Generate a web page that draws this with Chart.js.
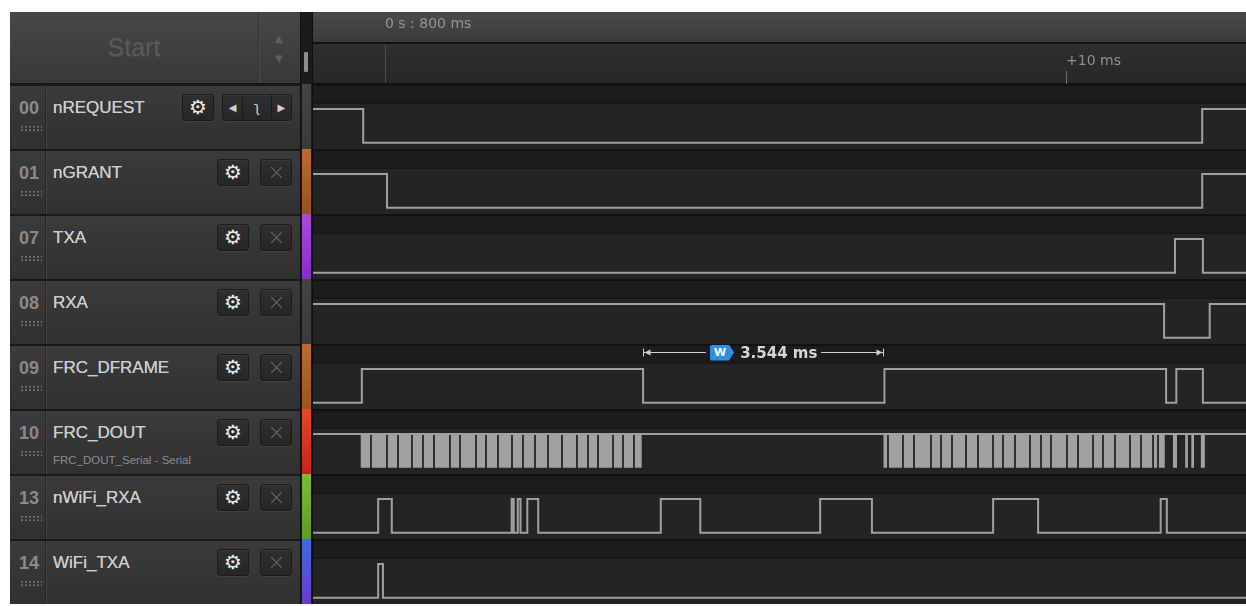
<!DOCTYPE html>
<html>
<head>
<meta charset="utf-8">
<title>Logic capture</title>
<script src="https://cdn.jsdelivr.net/npm/chart.js@4.4.1/dist/chart.umd.min.js"></script>
<style>
  html, body { margin: 0; padding: 0; background: #fff; }
  body { width: 1246px; height: 606px; position: relative; overflow: hidden; }
  #frame { position: absolute; left: 10px; top: 12px; width: 1236px; height: 592px; background: #232323;
           font-family: "Liberation Sans", Arial, sans-serif; }
  #head { position: absolute; left: 0; top: 0; width: 290px; height: 72px; box-sizing: border-box;
          background: linear-gradient(#474747, #393939); border-bottom: 1px solid #161616; }
  #start { position: absolute; left: 0; top: 0; width: 248px; height: 71px; line-height: 70px; text-align: center;
           font-size: 25px; color: #5a5a5a; text-shadow: 0 1px 0 rgba(255,255,255,0.07); }
  #scroll { position: absolute; left: 248px; top: 0; width: 42px; height: 71px; box-sizing: border-box;
            border-left: 1px solid #333; box-shadow: inset 1px 0 0 #4d4d4d; }
  #scroll span { position: absolute; left: 16px; font: 10px "DejaVu Sans", sans-serif; color: #5e5e5e; }
  #strip { position: absolute; left: 290px; top: 0; width: 13px; height: 592px; box-sizing: border-box;
           background: #1b1b1b; border-left: 1px solid #0e0e0e; border-right: 1px solid #0e0e0e; }
  #thumb { position: absolute; left: 3px; top: 40px; width: 4px; height: 20px; background: #8d8d8d; border-radius: 1px; }
  .bar { position: absolute; left: 1px; width: 9px; height: 65px; }
  .row { position: absolute; left: 0; width: 290px; height: 65px; box-sizing: border-box;
         border-top: 2px solid #191919; background: linear-gradient(#3b3b3b, #303030); }
  .num { position: absolute; left: 0; top: 0; width: 35px; height: 63px; border-right: 1px solid #242424;
         box-shadow: 1px 0 0 #444; }
  .num span { position: absolute; left: 9px; top: 12px; font-weight: bold; font-size: 18px; color: #8a8a8a; }
  .grip { position: absolute; left: 10px; top: 39px; width: 22px; height: 7px;
          background-image: radial-gradient(circle, #707070 0.9px, transparent 1.2px); background-size: 4px 3.5px; }
  .name { position: absolute; left: 43px; top: 12px; font-size: 17px; color: #cdcdcd; white-space: nowrap;
          text-shadow: 0 0 0.4px #cdcdcd; }
  .note { position: absolute; left: 43px; top: 43px; font-size: 11.5px; color: #8c8c8c; white-space: nowrap; }
  .btn { position: absolute; top: 8px; height: 27px; box-sizing: border-box; border-radius: 3px;
         background: linear-gradient(#2f2f2f, #262626); border: 1px solid #1b1b1b;
         box-shadow: inset 0 1px 0 rgba(255,255,255,0.05), 0 1px 0 rgba(255,255,255,0.06);
         text-align: center; line-height: 25px; font-family: "DejaVu Sans", sans-serif; }
  .gear { width: 32px; color: #ececec; font-size: 20px; }
  .close { left: 250px; width: 32px; }
  .close::before, .close::after { content: ""; position: absolute; left: 8px; top: 12px; width: 15px; height: 1px;
         background: #6c6c6c; transform: rotate(45deg); }
  .close::after { transform: rotate(-45deg); }
  .nav { left: 212px; width: 70px; color: #d0d0d0; font-size: 10px; display: flex; }
  .nav i { font-style: normal; flex: 1; border-left: 1px solid #1b1b1b; }
  .nav i:first-child { border-left: none; }
  .nav i.mid { flex: 1.4; font-size: 14px; }
  #wave { position: absolute; left: 303px; top: 0; }
  #measure { position: absolute; display: flex; align-items: center; gap: 6px; white-space: nowrap;
             font: bold 15px "DejaVu Sans", sans-serif; color: #d6d6d6; }
  #measure .badge { background: #2f8fe4; color: #fff; font: bold 11px "DejaVu Sans", sans-serif; height: 16px;
             line-height: 16px; padding: 0 8px 0 4px; border-radius: 2px;
             clip-path: polygon(0 0, 78% 0, 100% 50%, 78% 100%, 0 100%); }
</style>
</head>
<body>
<div id="frame">
  <div id="head">
    <div id="start">Start</div>
    <div id="scroll"><span style="top:21px">▲</span><span style="top:41px">▼</span></div>
  </div>
  <div id="strip"><div id="thumb"></div></div>
  <div id="rows"></div>
  <canvas id="wave" width="933" height="592"></canvas>
  <div id="measure"><span class="badge">W</span><span id="measureText"></span></div>
</div>

<script>
// ---- Channels ----
const channelIds = ['00', '01', '07', '08', '09', '10', '13', '14'];
const channelNames = ['nREQUEST', 'nGRANT', 'TXA', 'RXA', 'FRC_DFRAME', 'FRC_DOUT', 'nWiFi_RXA', 'WiFi_TXA'];
const channelNotes = ['', '', '', '', '', 'FRC_DOUT_Serial - Serial', '', ''];
const startLevels = [1, 1, 0, 1, 0, 1, 0, 0];

// ---- Edge times, ms after the "0 s : 800 ms" marker (each edge flips the level) ----
const nRequestEdges = [-0.32, 12.0];
const nGrantEdges = [0.03, 12.0];
const txaEdges = [11.6, 12.01];
const rxaEdges = [11.44, 12.11];
const frcDframeEdges = [-0.34, 3.79, 7.334, 11.47, 11.62, 12.01];
const frcDoutEdges = [];
const wifiRxaEdges = [-0.1, 0.1, 1.86, 1.89, 1.95, 1.99, 2.09, 2.25, 4.05, 4.63, 6.39, 7.15, 8.93, 9.59, 11.39, 11.48];
const wifiTxaEdges = [-0.1, -0.03];

// ---- FRC_DOUT serial traffic: bursts, idle gaps between bytes, trailing bits ----
const doutBursts = [[-0.36, 3.77], [7.32, 11.45]];
const doutByteGaps = [
  -0.206, 0.029, 0.191, 0.396, 0.558, 0.72, 0.954, 1.101, 1.336, 1.483, 1.659, 1.865, 2.026,
  2.203, 2.394, 2.599, 2.819, 2.981, 3.128, 3.348, 3.495, 3.656,
  7.386, 7.606, 7.768, 8.018, 8.164, 8.326, 8.532, 8.708, 8.928, 9.075, 9.251, 9.471, 9.633,
  9.78, 10.015, 10.176, 10.396, 10.543, 10.72, 10.94, 11.101, 11.278, 11.351
];
const doutTailBits = [[11.57, 11.63], [11.75, 11.79], [11.84, 11.88], [11.98, 12.04]];

// ---- Time ruler ----
const viewStartMs = -1.057;
const viewEndMs = 12.643;
const rulerOriginMs = [0];
const rulerTickMs = [10];

// style only
const stripColors = [
  ['#444', '#3a3a3a'], ['#bb6c32', '#96501f'], ['#a84ada', '#8a2ccc'], ['#444', '#3a3a3a'],
  ['#bb6c32', '#985420'], ['#e34a2a', '#c4221c'], ['#7dbb36', '#5d9c22'], ['#3d6ce0', '#6b38d0']
];
const HI = 0.385, LO = 0.905, GAP_MS = 0.026;
const lane = (row, level) => row + (level ? HI : LO);

// ---- Left panel ----
function buildPanel() {
  const rows = document.getElementById('rows');
  const strip = document.getElementById('strip');
  channelIds.forEach((id, i) => {
    const top = 72 + i * 65;
    const row = document.createElement('div');
    row.className = 'row';
    row.style.top = top + 'px';
    let buttons;
    if (i === 0) {
      buttons = '<div class="btn gear" style="left:172px">⚙</div>' +
        '<div class="btn nav"><i>◀</i><i class="mid">ʅ</i><i>▶</i></div>';
    } else {
      buttons = '<div class="btn gear" style="left:207px">⚙</div><div class="btn close"></div>';
    }
    row.innerHTML =
      '<div class="num"><span>' + id + '</span><div class="grip"></div></div>' +
      '<div class="name">' + channelNames[i] + '</div>' +
      (channelNotes[i] ? '<div class="note">' + channelNotes[i] + '</div>' : '') + buttons;
    rows.appendChild(row);

    const bar = document.createElement('div');
    bar.className = 'bar';
    bar.style.top = top + 'px';
    bar.style.background = 'linear-gradient(' + stripColors[i][0] + ',' + stripColors[i][1] + ')';
    strip.appendChild(bar);
  });
}

// ---- Waveform helpers ----
function wavePoints(row, level, edges) {
  const pts = [{ x: viewStartMs, y: lane(row, level) }];
  edges.forEach((t) => {
    level = 1 - level;
    pts.push({ x: t, y: lane(row, level) });
  });
  pts.push({ x: viewEndMs, y: lane(row, level) });
  return pts;
}

function doutBlockPoints(row) {
  const blocks = [];
  doutBursts.forEach(([s, e]) => {
    let from = s;
    doutByteGaps.filter((g) => g > s && g < e).forEach((g) => {
      blocks.push([from, g - GAP_MS / 2]);
      from = g + GAP_MS / 2;
    });
    blocks.push([from, e]);
  });
  const pts = [];
  blocks.concat(doutTailBits).forEach(([s, e]) => {
    pts.push({ x: s, y: lane(row, 0) }, { x: s, y: lane(row, 1) },
             { x: e, y: lane(row, 1) }, { x: e, y: lane(row, 0) });
  });
  return pts;
}

const channelEdges = [nRequestEdges, nGrantEdges, txaEdges, rxaEdges, frcDframeEdges,
  frcDoutEdges, wifiRxaEdges, wifiTxaEdges];
const measureFrom = frcDframeEdges[1];
const measureTo = frcDframeEdges[2];
const measureRow = channelNames.indexOf('FRC_DFRAME');

// ---- Backgrounds, ruler bands and the width measurement ----
const logicChrome = {
  id: 'logicChrome',
  beforeDraw(chart) {
    const { ctx, chartArea: ca, scales } = chart;
    const y = scales.y, x = scales.x;
    const w = chart.width;
    ctx.save();
    let g = ctx.createLinearGradient(0, 0, 0, 30);
    g.addColorStop(0, '#4a4a4a');
    g.addColorStop(1, '#3b3b3b');
    ctx.fillStyle = g;
    ctx.fillRect(0, 0, w, 30);
    ctx.fillStyle = '#121212';
    ctx.fillRect(0, 30, w, 2);
    g = ctx.createLinearGradient(0, 32, 0, 71);
    g.addColorStop(0, '#2f2f2f');
    g.addColorStop(1, '#272727');
    ctx.fillStyle = g;
    ctx.fillRect(0, 32, w, 39);
    ctx.fillStyle = '#0f0f0f';
    ctx.fillRect(0, 71, w, 1);

    channelNames.forEach((_, i) => {
      const top = y.getPixelForValue(i);
      const band = y.getPixelForValue(i + 0.29);
      const bot = y.getPixelForValue(i + 1);
      ctx.fillStyle = '#111';
      ctx.fillRect(ca.left, top, ca.width, 2);
      ctx.fillStyle = '#1c1c1c';
      ctx.fillRect(ca.left, top + 2, ca.width, band - top - 2);
      ctx.fillStyle = '#151515';
      ctx.fillRect(ca.left, band, ca.width, 1);
      ctx.fillStyle = '#242424';
      ctx.fillRect(ca.left, band + 1, ca.width, bot - band - 1);
    });

    const x0 = Math.round(x.getPixelForValue(rulerOriginMs[0])) + 0.5;
    ctx.strokeStyle = '#4e4e4e';
    ctx.lineWidth = 1;
    ctx.beginPath();
    ctx.moveTo(x0, 33);
    ctx.lineTo(x0, 71);
    ctx.stroke();
    ctx.restore();
  },
  afterDraw(chart) {
    const { ctx, scales } = chart;
    const x = scales.x, y = scales.y;
    const el = document.getElementById('measure');
    document.getElementById('measureText').textContent = (measureTo - measureFrom).toFixed(3) + ' ms';
    const xa = Math.round(x.getPixelForValue(measureFrom)) + 0.5;
    const xb = Math.round(x.getPixelForValue(measureTo)) - 0.5;
    const ym = Math.round(y.getPixelForValue(measureRow + 0.13)) + 0.5;
    const lw = el.offsetWidth, lh = el.offsetHeight;
    const mid = (xa + xb) / 2;
    el.style.left = (303 + mid - lw / 2) + 'px';
    el.style.top = (ym - lh / 2) + 'px';

    ctx.save();
    ctx.strokeStyle = '#cfcfcf';
    ctx.fillStyle = '#cfcfcf';
    ctx.lineWidth = 1;
    ctx.beginPath();
    ctx.moveTo(xa, ym); ctx.lineTo(mid - lw / 2 - 4, ym);
    ctx.moveTo(mid + lw / 2 + 4, ym); ctx.lineTo(xb, ym);
    ctx.moveTo(xa, ym - 4); ctx.lineTo(xa, ym + 4);
    ctx.moveTo(xb, ym - 4); ctx.lineTo(xb, ym + 4);
    ctx.stroke();
    ctx.beginPath();
    ctx.moveTo(xa + 1, ym); ctx.lineTo(xa + 7, ym - 3); ctx.lineTo(xa + 7, ym + 3);
    ctx.moveTo(xb - 1, ym); ctx.lineTo(xb - 7, ym - 3); ctx.lineTo(xb - 7, ym + 3);
    ctx.fill();
    ctx.restore();
  }
};

// ---- Chart ----
function initLogicChart() {
  buildPanel();
  const doutRow = channelNames.indexOf('FRC_DOUT');
  const datasets = channelEdges.map((edges, i) => ({
    data: wavePoints(i, startLevels[i], edges),
    stepped: true,
    borderColor: '#a0a0a0',
    borderWidth: 2,
    pointRadius: 0,
    fill: false,
    order: 1,
  }));
  datasets.push({
    data: doutBlockPoints(doutRow),
    borderWidth: 0,
    borderColor: 'rgba(0,0,0,0)',
    backgroundColor: '#a1a1a1',
    fill: { value: lane(doutRow, 0) },
    pointRadius: 0,
    tension: 0,
    order: 2,
  });

  const rulerFont = { family: '"DejaVu Sans", sans-serif', size: 14 };

  new Chart(document.getElementById('wave').getContext('2d'), {
    type: 'line',
    data: { datasets },
    options: {
      responsive: false,
      animation: false,
      events: [],
      layout: { padding: 0 },
      plugins: { legend: { display: false }, tooltip: { enabled: false } },
      scales: {
        x: {
          type: 'linear',
          position: 'top',
          weight: 0,
          min: viewStartMs,
          max: viewEndMs,
          afterFit: (s) => { s.height = 41; },
          afterBuildTicks: (s) => { s.ticks = rulerTickMs.map((v) => ({ value: v })); },
          ticks: {
            align: 'start',
            padding: 1,
            color: '#8f8f8f',
            font: rulerFont,
            maxRotation: 0,
            autoSkip: false,
            callback: (v) => '+' + v + ' ms',
          },
          grid: { display: true, drawOnChartArea: false, drawTicks: true, tickLength: 13, color: '#6a6a6a' },
          border: { display: false },
        },
        x2: {
          type: 'linear',
          axis: 'x',
          position: 'top',
          weight: 1,
          min: viewStartMs,
          max: viewEndMs,
          afterFit: (s) => { s.height = 31; },
          afterBuildTicks: (s) => { s.ticks = rulerOriginMs.map((v) => ({ value: v })); },
          ticks: {
            align: 'start',
            padding: 10,
            color: '#959595',
            font: rulerFont,
            maxRotation: 0,
            autoSkip: false,
            callback: () => '0 s : 800 ms',
          },
          grid: { display: false, drawTicks: false },
          border: { display: false },
        },
        y: { type: 'linear', min: 0, max: channelNames.length, reverse: true, display: false },
      },
    },
    plugins: [logicChrome],
  });
}

document.addEventListener('DOMContentLoaded', initLogicChart);
</script>
</body>
</html>
